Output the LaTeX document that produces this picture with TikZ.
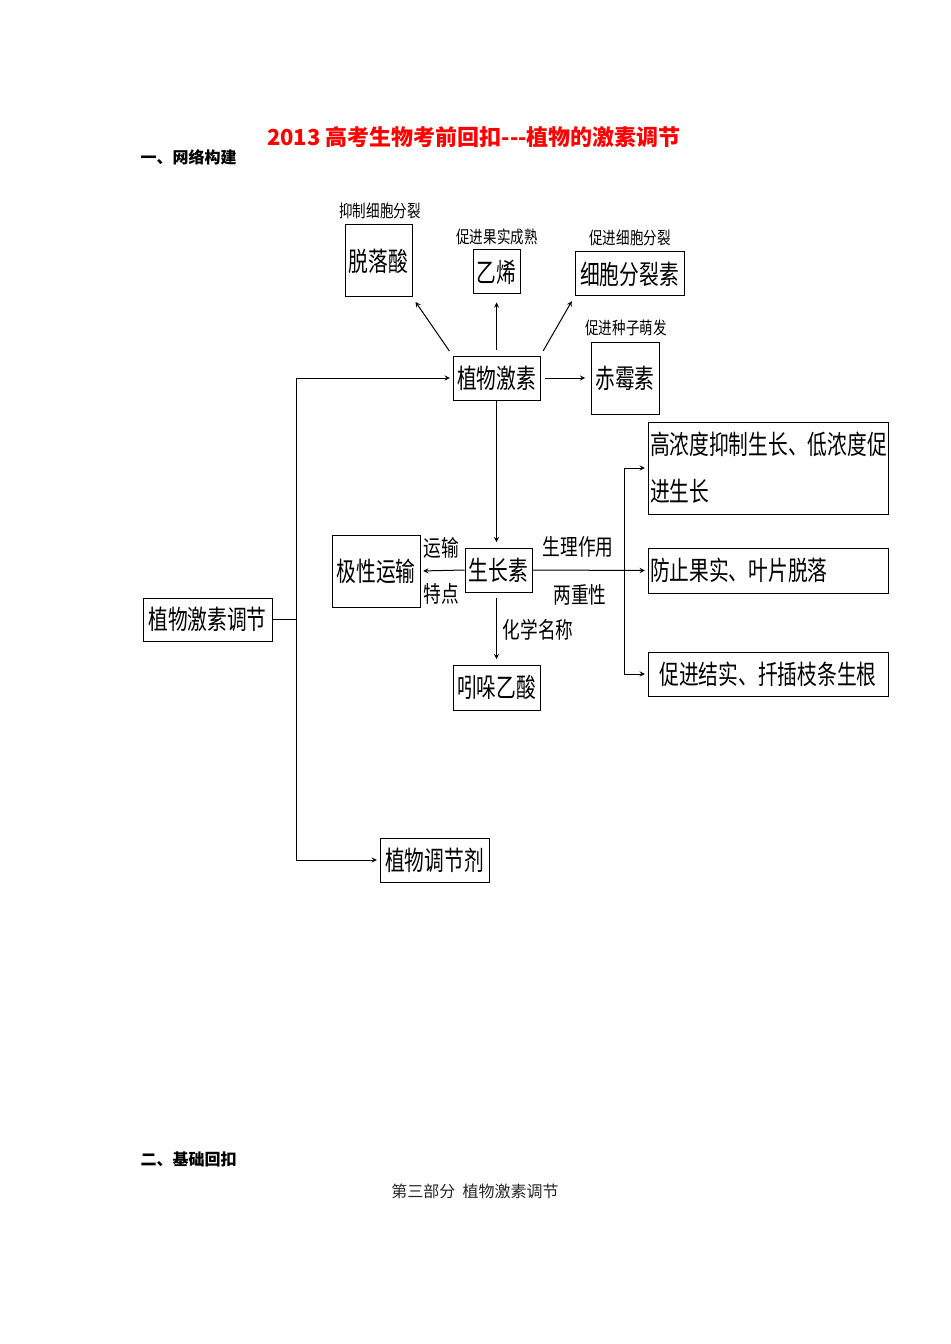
\documentclass[tikz,border=0pt]{standalone}
\usepackage{fontspec}
\newfontfamily\cjk{Noto Sans CJK SC}
\newfontfamily\cjkn[FakeStretch=0.78]{Noto Sans CJK SC}
\newfontfamily\cjkm[FakeStretch=0.74]{Noto Sans CJK SC}
\usetikzlibrary{arrows}

\begin{document}
\begin{tikzpicture}[x=0.75pt,y=-0.75pt]
\tikzset{hbox/.style={draw, line width=0.75pt, inner sep=1pt, font=\cjkm\fontsize{20}{22}\selectfont},
boxsize/.style 2 args={minimum width=#1*0.75pt, minimum height=#2*0.75pt},
tiplab/.style={font=\cjkn\fontsize{13}{15}\selectfont, inner sep=0pt},
edgelab/.style={font=\cjkn\fontsize{17}{19}\selectfont, inner sep=0pt},
link/.style={line width=0.75pt},
arr/.style={link, ->, >=stealth, shorten >=2pt}}
\useasboundingbox (0,0) rectangle (950,1344);
% headings
\node[font=\cjk\bfseries\fontsize{16.5}{18}\selectfont, text=red] (title) at (474,137) {2013 高考生物考前回扣---植物的激素调节};
\node[anchor=west, font=\cjk\bfseries\fontsize{12}{14}\selectfont] (sec1) at (136,157) {一、网络构建};
\node[anchor=west, font=\cjk\bfseries\fontsize{12}{14}\selectfont] (sec2) at (136,1159) {二、基础回扣};
\node[font=\cjk\fontsize{12}{14}\selectfont, text=black!85] (foot) at (475,1191) {第三部分\ \ 植物激素调节};
% boxes
\node[hbox, boxsize={67}{72}] (tuoluo) at (378.5,261) {脱落酸};
\node[hbox, boxsize={47}{44}] (yixi) at (496.5,272) {乙烯};
\node[hbox, boxsize={109}{44}] (xibao) at (629.5,274) {细胞分裂素};
\node[hbox, boxsize={68}{72}] (chimei) at (625,378) {赤霉素};
\node[hbox, boxsize={87}{44}] (jisu) at (496.5,378) {植物激素};
\node[hbox, boxsize={67}{44}] (shengzhang) at (498.5,570) {生长素};
\node[hbox, boxsize={88}{72}] (jixing) at (376,571) {极性运输};
\node[hbox, boxsize={87}{45}] (yinduo) at (496.5,687.5) {吲哚乙酸};
\node[hbox, boxsize={240}{92}, text width=177pt, align=left, font=\cjkm\fontsize{20}{35}\selectfont] (gaonong) at (768,468) {高浓度抑制生长、低浓度促\\进生长};
\node[hbox, boxsize={240}{45}, text width=177pt, align=left] (fangzhi) at (768,570.5) {防止果实、叶片脱落};
\node[hbox, boxsize={240}{44}] (cujin) at (768,674) {促进结实、扦插枝条生根};
\node[hbox, boxsize={129}{43}] (tiaojie) at (207.5,619.5) {植物激素调节};
\node[hbox, boxsize={109}{44}] (tiaojieji) at (434.5,860) {植物调节剂};
% small labels
\node[tiplab] (t1) at (380,211) {抑制细胞分裂};
\node[tiplab] (t2) at (497,237) {促进果实成熟};
\node[tiplab] (t3) at (630,238) {促进细胞分裂};
\node[tiplab] (t4) at (626,328) {促进种子萌发};
\node[edgelab] (e1) at (441,548) {运输};
\node[edgelab] (e2) at (441,594) {特点};
\node[edgelab] (e3) at (578,547) {生理作用};
\node[edgelab] (e4) at (580,595) {两重性};
\node[edgelab] (e5) at (538,630) {化学名称};
% connectors
\draw[arr, shorten <=4pt, shorten >=4pt] (jisu.north west) -- (tuoluo.south east);
\draw[arr, shorten <=4pt, shorten >=6pt] (jisu.north) -- (yixi.south);
\draw[arr, shorten <=4pt, shorten >=4pt] (jisu.north east) -- (xibao.south west);
\draw[arr, shorten <=3pt, shorten >=4pt] (jisu.east) -- (chimei.west);
\coordinate (ttop) at (296,378);
\coordinate (tbot) at (296,860);
\draw[link] (tiaojie.east) -- (tiaojie.east -| ttop);
\draw[link] (ttop) -- (tbot);
\draw[arr] (ttop) -- (jisu.west);
\draw[arr] (tbot) -- (tiaojieji.west);
\draw[arr, shorten >=4pt] (jisu.south) -- (jisu.south |- shengzhang.north);
\draw[arr] (shengzhang.west) -- (jixing.east);
\draw[arr, shorten <=4pt, shorten >=4pt] (yinduo.north |- shengzhang.south) -- (yinduo.north);
\draw[arr] (shengzhang.east) -- (fangzhi.west);
\coordinate (fork) at (624,570);
\draw[link] (fork |- gaonong.west) -- (fork |- cujin.west);
\draw[arr] (fork |- gaonong.west) -- (gaonong.west);
\draw[arr] (fork |- cujin.west) -- (cujin.west);
\end{tikzpicture}
\end{document}
